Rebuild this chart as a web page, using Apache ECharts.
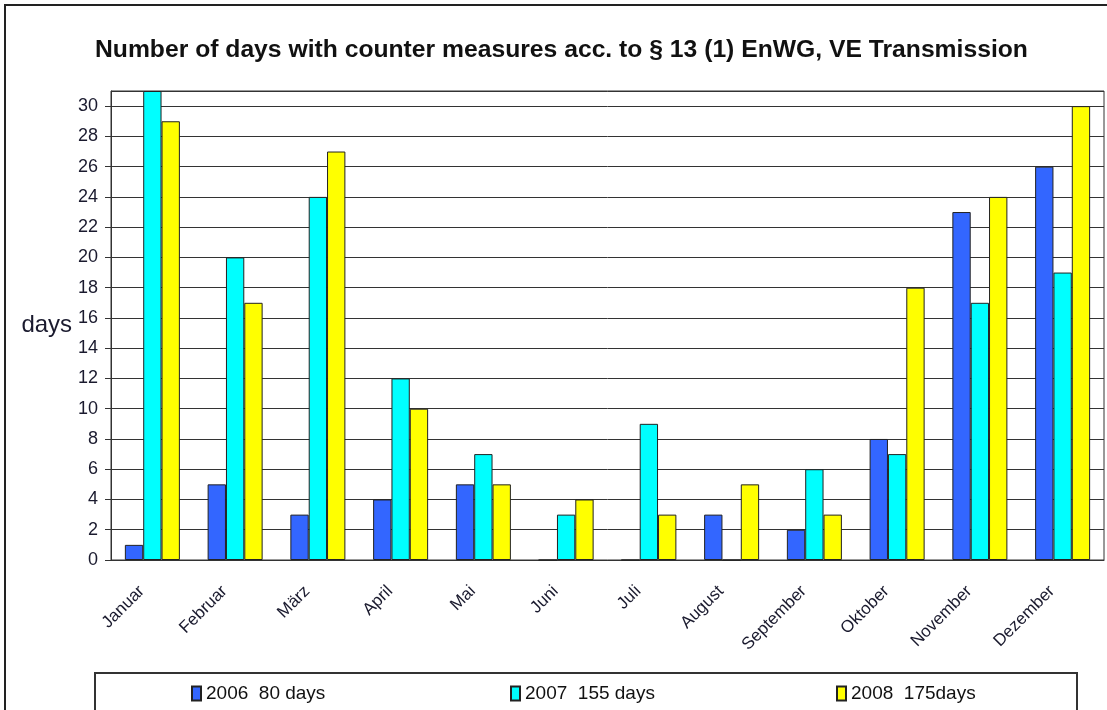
<!DOCTYPE html>
<html>
<head>
<meta charset="utf-8">
<title>Counter measures EnWG</title>
<script src="https://cdn.jsdelivr.net/npm/echarts@6/dist/echarts.min.js"></script>
<style>
  html, body {
    margin: 0;
    padding: 0;
    background: #fff;
  }
  #chart {
    width: 1107px;
    height: 710px;
  }
</style>
</head>
<body>
<div id="chart"></div>
<script>
// Monate
const months = ['Januar', 'Februar', 'März', 'April', 'Mai', 'Juni', 'Juli', 'August', 'September', 'Oktober', 'November', 'Dezember']
// Tage pro Monat und Jahr
const days2006 = [1, 5, 3, 4, 5, 0, 0, 3, 2, 8, 23, 26]
const days2007 = [31, 20, 24, 12, 7, 3, 9, 0, 6, 7, 17, 19]
const days2008 = [29, 17, 27, 10, 5, 4, 3, 5, 3, 18, 24, 30]
const seriesNames = ['2006  80 days', '2007  155 days', '2008  175days']
const seriesColors = ['#3366FF', '#00FFFF', '#FFFF00']

const font = '"Liberation Sans", Arial, sans-serif'
const myChart = echarts.init(document.getElementById('chart'))

function legendAt(name, left) {
  return {
    data: [{ name: name, icon: 'rect' }],
    left: left,
    top: 684,
    padding: 0,
    itemWidth: 9,
    itemHeight: 14,
    itemGap: 4,
    textStyle: {
      fontFamily: font,
      fontSize: 19,
      color: '#111'
    },
    selectedMode: false
  }
}

function barSeries(i, values) {
  return {
    name: seriesNames[i],
    type: 'bar',
    barGap: 0,
    barCategoryGap: '33.5%',
    itemStyle: {
      color: seriesColors[i],
      borderColor: '#222',
      borderWidth: 1
    },
    data: values
  }
}

myChart.setOption({
  animation: false,
  backgroundColor: '#fff',
  textStyle: { fontFamily: font },
  title: {
    text: 'Number of days with counter measures acc. to § 13 (1) EnWG, VE Transmission',
    left: 90,
    top: 33,
    padding: [5, 5],
    textStyle: {
      fontFamily: font,
      fontSize: 24.7,
      fontWeight: 'bold',
      color: '#111'
    }
  },
  legend: [
    legendAt(seriesNames[0], 191),
    legendAt(seriesNames[1], 510),
    legendAt(seriesNames[2], 836)
  ],
  grid: {
    left: 111,
    top: 91,
    right: 3,
    bottom: 150,
    show: true,
    borderColor: '#333',
    borderWidth: 1,
    containLabel: false
  },
  xAxis: {
    type: 'category',
    data: months,
    axisLine: { lineStyle: { color: '#333', width: 1 } },
    axisTick: { length: 6, lineStyle: { color: '#333' } },
    axisLabel: {
      interval: 0,
      rotate: 45,
      margin: 18,
      padding: [0, 15, 0, 0],
      fontSize: 17,
      color: '#1a1a2e'
    }
  },
  yAxis: {
    type: 'value',
    min: 0,
    max: 31,
    interval: 2,
    name: 'days',
    nameLocation: 'middle',
    nameRotate: 0,
    nameGap: 35,
    nameTextStyle: {
      fontSize: 24,
      color: '#1a1a2e',
      align: 'right',
      padding: [0, 0, 10, 0]
    },
    axisLine: { show: true, lineStyle: { color: '#333' } },
    axisTick: { show: true, length: 6, lineStyle: { color: '#333' } },
    axisLabel: {
      fontSize: 18,
      margin: 13,
      color: '#1a1a2e',
      showMaxLabel: false
    },
    splitLine: { lineStyle: { color: '#333', width: 1 } }
  },
  graphic: [
    {
      type: 'rect',
      shape: { x: 5, y: 5, width: 1130, height: 730 },
      style: { fill: 'none', stroke: '#222', lineWidth: 2 },
      silent: true
    },
    {
      type: 'rect',
      shape: { x: 95, y: 673, width: 982, height: 60 },
      style: { fill: 'none', stroke: '#333', lineWidth: 2 },
      silent: true
    }
  ],
  series: [
    barSeries(0, days2006),
    barSeries(1, days2007),
    barSeries(2, days2008)
  ]
})
</script>
</body>
</html>
